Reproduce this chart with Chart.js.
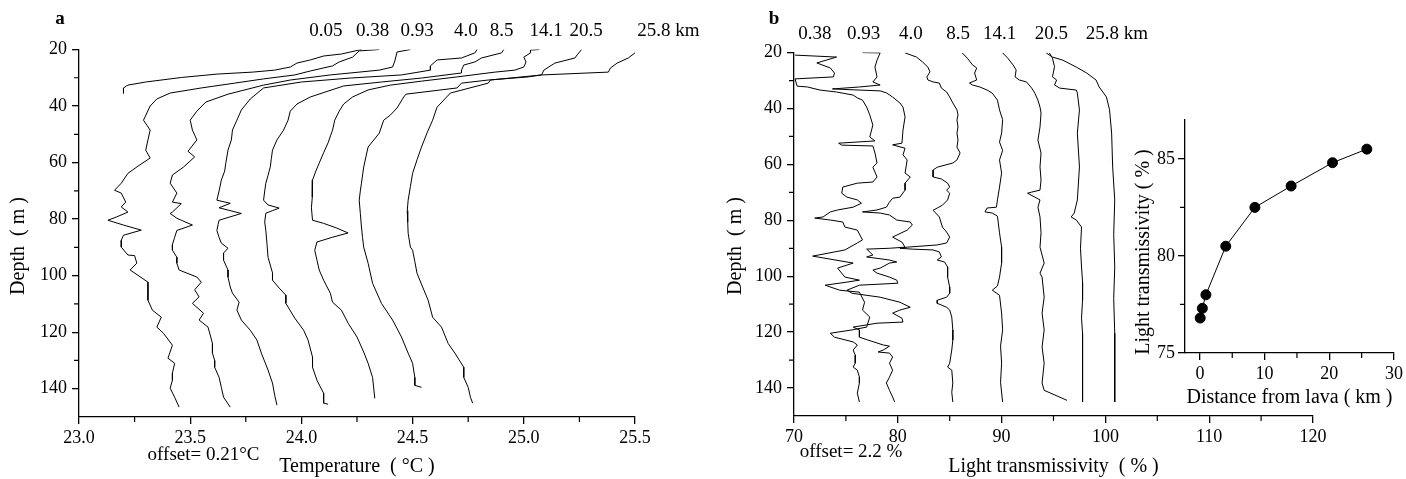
<!DOCTYPE html>
<html>
<head>
<meta charset="utf-8">
<script src="https://cdn.jsdelivr.net/npm/chart.js@4.4.1/dist/chart.umd.min.js"></script>
<style>
  html, body { margin: 0; padding: 0; background: #fff; }
  body { width: 1406px; height: 479px; position: relative; overflow: hidden; }
  canvas { position: absolute; }
  #chart-a { left: 0; top: 0; }
  #chart-b { left: 720px; top: 0; }
  #chart-inset { left: 1100px; top: 80px; }
</style>
</head>
<body>
<canvas id="chart-a" width="720" height="479"></canvas>
<canvas id="chart-b" width="686" height="479"></canvas>
<canvas id="chart-inset" width="306" height="330"></canvas>
<script>
// ---- panel a: temperature profiles, [depth m, temperature °C] ----
const profileA_005 = [[20, 24.27], [21.6, 24.18], [22.3, 24.10], [23.7, 24.04], [24.8, 23.98], [26.2, 23.95], [27.3, 23.88], [28.0, 23.78], [28.7, 23.62], [29.9, 23.46], [31.5, 23.30], [32.6, 23.22], [33.6, 23.20], [35.5, 23.20]];
const profileA_038 = [[20, 24.35], [20.5, 24.26], [22.7, 24.23], [24.4, 24.17], [25.8, 24.14], [27.6, 24.04], [29.0, 23.97], [30.4, 23.83], [31.9, 23.70], [33.6, 23.55], [35.4, 23.41], [37.5, 23.35], [40.0, 23.32], [45.0, 23.29], [48.5, 23.32], [52.0, 23.31], [55.6, 23.30], [58.4, 23.32], [61.0, 23.27], [63.8, 23.22], [67.3, 23.19], [69.8, 23.16], [70.8, 23.19], [74.0, 23.21], [75.7, 23.19], [77.5, 23.22], [79.2, 23.17], [80.4, 23.13], [82.1, 23.20], [83.9, 23.28], [85.7, 23.20], [87.5, 23.19], [89.9, 23.19], [92.7, 23.22], [92.9, 23.25], [95.6, 23.26], [98.0, 23.23], [102.3, 23.31], [105.0, 23.31], [108.7, 23.31], [112.2, 23.33], [114.7, 23.37], [118.2, 23.35], [120.4, 23.38], [124.6, 23.42], [129.2, 23.40], [131.0, 23.43], [134.5, 23.42], [137.0, 23.42], [139.8, 23.41], [143.0, 23.43], [146.5, 23.45]];
const profileA_093 = [[20, 24.49], [20.9, 24.43], [24.1, 24.42], [26.2, 24.41], [27.3, 24.35], [29.0, 24.13], [30.8, 23.95], [32.6, 23.83], [35.8, 23.67], [38.6, 23.57], [41.8, 23.53], [45.0, 23.50], [48.5, 23.51], [52.0, 23.53], [56.0, 23.49], [58.0, 23.52], [61.6, 23.47], [64.4, 23.42], [67.3, 23.41], [70.8, 23.44], [74.0, 23.42], [74.5, 23.46], [77.5, 23.42], [78.0, 23.41], [79.7, 23.44], [80.4, 23.46], [82.1, 23.51], [84.0, 23.44], [86.5, 23.43], [89.0, 23.42], [91.0, 23.42], [93.5, 23.44], [95.6, 23.44], [98.0, 23.45], [100.5, 23.53], [102.3, 23.55], [105.0, 23.52], [107.5, 23.54], [109.8, 23.51], [113.3, 23.56], [115.7, 23.54], [118.2, 23.58], [121.0, 23.59], [124.0, 23.60], [127.4, 23.60], [130.0, 23.61], [132.4, 23.61], [136.0, 23.63], [139.5, 23.64], [143.0, 23.65], [146.5, 23.68]];
const profileA_40 = [[20, 24.79], [21.2, 24.78], [23.0, 24.72], [23.7, 24.61], [25.8, 24.58], [27.3, 24.58], [29.0, 24.45], [30.1, 24.22], [31.5, 24.00], [33.6, 23.83], [37.5, 23.77], [41.4, 23.73], [45.0, 23.71], [48.5, 23.69], [52.0, 23.685], [55.6, 23.67], [60.2, 23.66], [63.0, 23.655], [66.2, 23.64], [70.0, 23.63], [73.3, 23.62], [74.4, 23.68], [76.0, 23.63], [78.0, 23.73], [80.4, 23.63], [82.0, 23.625], [84.0, 23.62], [86.5, 23.63], [88.5, 23.64], [90.3, 23.67], [92.0, 23.65], [94.5, 23.65], [96.3, 23.66], [98.0, 23.67], [100.5, 23.67], [104.0, 23.68], [106.2, 23.69], [109.4, 23.72], [112.2, 23.71], [115.7, 23.73], [119.3, 23.77], [122.8, 23.80], [127.4, 23.82], [133.4, 23.85], [138.0, 23.87], [142.3, 23.88], [145.8, 23.89]];
const profileA_85 = [[20, 24.91], [21.2, 24.90], [23.0, 24.81], [24.4, 24.78], [25.5, 24.73], [27.3, 24.72], [28.3, 24.72], [30.1, 24.54], [31.5, 24.36], [32.9, 24.19], [36.8, 24.04], [39.3, 23.98], [41.8, 23.95], [45.0, 23.94], [48.5, 23.92], [52.0, 23.89], [55.6, 23.87], [58.5, 23.865], [61.6, 23.86], [64.5, 23.85], [67.3, 23.84], [70.0, 23.835], [73.3, 23.83], [75.0, 23.85], [76.1, 23.90], [77.0, 23.87], [77.9, 23.84], [81.0, 23.835], [84.0, 23.84], [88.5, 23.845], [93.5, 23.85], [99.0, 23.87], [101.6, 23.87], [104.4, 23.90], [106.9, 23.93], [109.8, 23.93], [111.1, 23.94], [115.0, 23.97], [119.3, 24.01], [122.8, 24.03], [128.8, 24.05], [132.4, 24.05], [137.0, 24.07], [141.6, 24.10], [145.1, 24.10], [145.5, 24.12]];
const profileA_141 = [[20, 25.07], [20.2, 25.03], [21.2, 25.03], [22.7, 25.00], [24.4, 25.01], [26.2, 25.00], [27.3, 24.96], [28.0, 24.87], [29.7, 24.70], [31.2, 24.54], [32.6, 24.40], [34.3, 24.30], [36.8, 24.23], [39.3, 24.19], [41.8, 24.17], [45.0, 24.15], [48.5, 24.14], [53.0, 24.12], [56.5, 24.10], [60.2, 24.08], [63.0, 24.065], [66.2, 24.05], [69.0, 24.048], [72.2, 24.05], [76.0, 24.045], [80.4, 24.05], [81.5, 24.10], [83.2, 24.16], [84.9, 24.21], [86.4, 24.14], [88.1, 24.07], [91.0, 24.06], [94.5, 24.07], [98.0, 24.08], [101.6, 24.10], [106.2, 24.13], [109.4, 24.14], [112.2, 24.18], [116.8, 24.21], [121.7, 24.25], [127.0, 24.28], [131.0, 24.30], [136.0, 24.32], [143.4, 24.33]];
const profileA_205 = [[20, 25.26], [21.9, 25.24], [23.0, 25.23], [24.8, 25.14], [27.3, 25.09], [29.0, 25.08], [29.7, 25.02], [30.8, 24.84], [31.9, 24.72], [33.6, 24.70], [35.8, 24.47], [36.8, 24.46], [40.7, 24.43], [43.2, 24.40], [45.0, 24.37], [49.6, 24.35], [54.5, 24.30], [58.0, 24.29], [61.6, 24.28], [67.3, 24.27], [70.0, 24.265], [73.3, 24.26], [78.0, 24.265], [82.8, 24.27], [86.5, 24.275], [89.9, 24.28], [95.6, 24.30], [102.7, 24.32], [109.8, 24.36], [115.7, 24.41], [121.7, 24.45], [127.4, 24.48], [131.0, 24.50], [136.0, 24.51], [138.8, 24.51], [139.5, 24.54]];
const profileA_258 = [[20, 25.59], [21.2, 25.50], [23.0, 25.47], [24.8, 25.42], [26.5, 25.39], [28.0, 25.38], [29.0, 25.08], [30.8, 24.85], [31.9, 24.84], [35.4, 24.67], [40.4, 24.61], [45.0, 24.59], [49.5, 24.565], [54.5, 24.54], [59.0, 24.52], [63.8, 24.50], [68.5, 24.49], [73.3, 24.48], [77.0, 24.476], [81.0, 24.478], [85.0, 24.48], [89.9, 24.49], [91.0, 24.50], [95.0, 24.51], [99.2, 24.52], [104.0, 24.545], [108.7, 24.57], [114.7, 24.59], [118.2, 24.63], [124.0, 24.66], [127.4, 24.69], [132.4, 24.73], [136.0, 24.73], [139.5, 24.75], [143.0, 24.76], [145.1, 24.77]];

// ---- panel b: light transmissivity profiles, [depth m, transmissivity %] ----
const profileB_038 = [[20.9, 70.1], [21.6, 74.1], [23.7, 72.2], [25.5, 73.5], [27.3, 73.9], [28.7, 73.8], [29.4, 70.1], [32.0, 70.3], [32.3, 71.3], [33.4, 72.5], [34.1, 74.1], [35.2, 75.7], [36.2, 76.1], [37.0, 76.6], [39.5, 77.0], [42.3, 77.3], [45.9, 77.6], [50.2, 77.3], [51.6, 77.8], [52.4, 74.3], [53.1, 74.6], [53.4, 77.6], [55.9, 77.8], [59.5, 78.0], [61.0, 77.6], [64.5, 78.0], [66.3, 77.6], [66.7, 76.1], [68.1, 74.7], [70.3, 74.6], [71.7, 75.1], [72.7, 76.1], [73.9, 76.5], [75.3, 75.7], [76.3, 74.2], [77.0, 73.5], [78.8, 72.8], [79.2, 72.0], [79.9, 73.5], [80.6, 74.7], [82.4, 74.9], [83.5, 76.1], [87.0, 76.6], [88.1, 76.1], [90.6, 74.9], [92.8, 71.8], [95.3, 75.7], [97.1, 74.2], [100.3, 74.9], [101.4, 76.3], [102.1, 75.1], [103.2, 73.0], [105.0, 74.4], [105.7, 76.3], [109.3, 76.8], [112.1, 76.6], [114.6, 77.3], [118.2, 77.0], [119.2, 75.6], [120.4, 73.5], [121.8, 73.9], [123.5, 75.7], [124.6, 76.1], [126.4, 75.7], [128.2, 75.9], [131.1, 75.9], [132.5, 75.7], [133.6, 76.1], [136.1, 76.3], [138.2, 76.3], [141.8, 76.1], [145.0, 76.3]];
const profileB_093 = [[20.0, 76.6], [20.1, 78.3], [22.7, 78.0], [25.2, 77.8], [28.7, 78.0], [30.5, 77.6], [31.6, 78.3], [32.3, 76.3], [33.0, 73.7], [33.4, 76.3], [33.7, 78.3], [34.4, 78.9], [35.9, 79.5], [38.0, 80.2], [39.5, 80.5], [43.0, 80.7], [47.7, 80.5], [52.4, 80.4], [53.0, 79.5], [54.2, 80.7], [56.6, 80.5], [58.4, 80.9], [63.1, 80.7], [64.5, 81.2], [66.7, 80.7], [69.2, 80.7], [71.7, 80.2], [72.1, 79.5], [73.5, 79.2], [75.3, 78.9], [76.3, 78.0], [77.0, 76.6], [77.4, 78.3], [78.1, 79.2], [79.9, 79.9], [80.6, 81.2], [81.7, 81.4], [83.5, 80.9], [86.0, 79.5], [87.8, 80.4], [89.6, 80.7], [90.0, 79.2], [90.3, 77.0], [92.4, 77.6], [93.1, 77.0], [94.2, 79.2], [94.9, 79.9], [95.3, 79.2], [97.1, 78.3], [97.8, 77.6], [98.9, 78.0], [100.3, 79.2], [101.4, 79.9], [102.5, 80.0], [103.2, 76.3], [105.0, 75.1], [106.1, 75.6], [107.5, 78.3], [109.3, 80.2], [111.1, 81.2], [112.1, 80.2], [113.2, 79.5], [115.0, 80.4], [116.4, 80.5], [116.8, 78.0], [118.2, 75.7], [119.2, 76.3], [121.8, 76.3], [122.8, 77.1], [124.6, 78.6], [125.0, 79.2], [126.4, 78.6], [127.1, 78.1], [127.5, 79.2], [128.9, 79.5], [131.1, 79.2], [133.6, 79.5], [136.1, 79.2], [138.2, 78.9], [140.8, 79.2], [143.2, 79.5], [145.0, 79.7]];
const profileB_40 = [[20.1, 80.7], [21.6, 81.8], [23.4, 82.4], [25.2, 82.9], [26.9, 83.1], [28.7, 82.8], [29.8, 82.9], [30.5, 83.4], [30.9, 84.0], [32.7, 84.2], [34.1, 84.7], [35.9, 85.0], [38.0, 85.3], [40.5, 85.7], [42.3, 85.8], [44.1, 85.7], [46.6, 85.8], [48.8, 85.7], [51.3, 85.8], [53.8, 85.7], [55.9, 86.0], [58.4, 85.7], [59.5, 85.3], [61.0, 83.8], [62.0, 83.4], [64.5, 83.4], [65.2, 84.2], [66.7, 84.8], [68.1, 85.0], [69.2, 84.7], [70.3, 85.0], [72.7, 84.8], [74.6, 84.3], [75.6, 83.8], [76.4, 83.4], [78.8, 84.0], [82.4, 84.3], [84.2, 84.7], [86.0, 85.0], [88.1, 84.7], [88.8, 83.8], [89.6, 80.9], [90.0, 80.2], [90.3, 81.4], [90.6, 83.4], [91.3, 84.0], [93.1, 84.2], [94.2, 83.8], [94.9, 84.5], [96.7, 84.8], [100.3, 84.8], [103.9, 85.0], [106.1, 85.0], [107.5, 84.7], [108.6, 83.8], [109.7, 83.8], [110.3, 84.2], [111.1, 84.7], [112.1, 85.0], [114.6, 85.2], [119.2, 85.3], [122.8, 85.3], [126.4, 85.2], [131.1, 85.0], [132.5, 84.8], [133.6, 85.2], [138.2, 85.3], [141.5, 85.2], [145.0, 85.3]];
const profileB_85 = [[20.1, 86.2], [22.0, 86.7], [24.4, 87.2], [25.5, 87.6], [27.3, 87.4], [29.8, 87.6], [30.9, 86.9], [31.6, 87.2], [32.3, 87.9], [33.4, 88.6], [34.5, 89.1], [37.0, 89.6], [40.5, 89.8], [44.0, 90.1], [48.8, 90.0], [52.0, 89.8], [55.0, 90.1], [58.4, 89.8], [63.1, 90.0], [68.1, 89.8], [72.7, 89.6], [75.3, 89.5], [75.6, 88.6], [77.0, 88.4], [77.4, 89.1], [78.5, 89.6], [84.5, 89.8], [89.6, 90.0], [95.3, 90.0], [100.3, 89.8], [103.5, 89.6], [105.0, 89.1], [106.8, 89.8], [113.2, 90.0], [119.2, 90.1], [125.0, 89.9], [131.1, 90.0], [138.0, 89.9], [145.0, 90.1]];
const profileB_141 = [[20.1, 90.1], [22.0, 90.6], [24.4, 91.1], [26.2, 91.4], [28.7, 91.3], [29.8, 91.7], [30.5, 92.4], [32.7, 92.9], [34.5, 93.2], [37.0, 93.5], [39.5, 93.7], [41.6, 93.8], [46.6, 93.7], [51.3, 93.5], [55.9, 93.8], [60.9, 93.7], [65.6, 93.8], [69.2, 93.7], [69.9, 92.9], [70.3, 92.5], [71.7, 93.2], [72.7, 93.7], [75.3, 93.5], [78.8, 93.7], [84.5, 93.8], [89.6, 93.7], [95.3, 94.1], [98.9, 93.7], [100.3, 93.9], [107.5, 94.1], [113.2, 93.9], [119.2, 94.1], [125.3, 93.9], [131.1, 94.1], [138.2, 93.9], [140.8, 94.1], [144.4, 96.3]];
const profileB_205 = [[20.1, 94.6], [22.0, 94.9], [25.0, 95.1], [28.7, 94.9], [29.8, 95.3], [31.6, 95.1], [32.7, 95.6], [33.4, 97.2], [34.5, 97.3], [40.5, 97.5], [48.8, 97.3], [60.9, 97.5], [72.7, 97.3], [77.4, 97.0], [78.8, 96.7], [79.9, 97.2], [82.4, 97.7], [90.0, 97.6], [96.7, 97.7], [102.0, 97.8], [108.5, 97.8], [115.0, 97.7], [120.4, 97.8], [132.5, 97.8], [145.0, 97.8]];
const profileB_258 = [[20.1, 94.3], [21.6, 94.9], [22.7, 95.9], [25.2, 97.2], [27.3, 98.2], [29.8, 99.1], [32.3, 99.4], [35.9, 100.1], [40.5, 100.4], [48.8, 100.6], [60.9, 100.7], [72.7, 100.9], [85.0, 100.8], [96.7, 100.9], [108.0, 100.8], [120.4, 100.9], [132.0, 100.9], [145.0, 100.9]];

// ---- inset: mean transmissivity vs distance ----
const DISTANCE_KM = [0.05, 0.38, 0.93, 4.0, 8.5, 14.1, 20.5, 25.8];
const TRANSMISSIVITY = [76.8, 77.3, 78.0, 80.5, 82.5, 83.6, 84.8, 85.5];

// ---- ticks and labels ----
const DEPTH_TICKS = [20, 40, 60, 80, 100, 120, 140];
const DEPTH_MINOR = [30, 50, 70, 90, 110, 130];
const TEMP_TICKS = [23.0, 23.5, 24.0, 24.5, 25.0, 25.5];
const TEMP_MINOR = [23.25, 23.75, 24.25, 24.75, 25.25];
const TRANS_TICKS = [70, 80, 90, 100, 110, 120];
const TRANS_MINOR = [75, 85, 95, 105, 115];
const INSET_X_TICKS = [0, 10, 20, 30];
const INSET_X_MINOR = [5, 15, 25];
const INSET_Y_TICKS = [75, 80, 85];
const INSET_Y_MINOR = [77.5, 82.5];

const LABELS_A = ['0.05', '0.38', '0.93', '4.0', '8.5', '14.1', '20.5', '25.8 km'];
const LABEL_POS_A = [24.11, 24.32, 24.52, 24.74, 24.90, 25.10, 25.28, 25.65];
const LABELS_B = ['0.38', '0.93', '4.0', '8.5', '14.1', '20.5', '25.8 km'];
const LABEL_POS_B = [72.0, 76.7, 81.25, 85.8, 89.8, 94.8, 101.1];

const FONT = '"Liberation Serif", "Times New Roman", serif';
Chart.defaults.font.family = FONT;
Chart.defaults.color = '#000';

// draws the shorter unlabelled ticks on both axes
const minorTicks = {
  id: 'minorTicks',
  afterDraw(chart, args, opts) {
    const { ctx, chartArea } = chart;
    const x = chart.scales.x, y = chart.scales.y;
    ctx.save();
    ctx.strokeStyle = '#000';
    ctx.lineWidth = 1.2;
    ctx.beginPath();
    (opts.x || []).forEach(v => {
      const px = x.getPixelForValue(v);
      ctx.moveTo(px, chartArea.bottom);
      ctx.lineTo(px, chartArea.bottom + opts.len);
    });
    (opts.y || []).forEach(v => {
      const py = y.getPixelForValue(v);
      ctx.moveTo(chartArea.left, py);
      ctx.lineTo(chartArea.left - opts.len, py);
    });
    ctx.stroke();
    ctx.restore();
  }
};

// free text: panel letters, distance labels, offset notes, rotated y titles
const textLabels = {
  id: 'textLabels',
  afterDraw(chart, args, opts) {
    const { ctx } = chart;
    (opts.items || []).forEach(it => {
      ctx.save();
      ctx.font = it.font;
      ctx.fillStyle = '#000';
      ctx.textAlign = it.align || 'center';
      ctx.textBaseline = 'middle';
      const px = it.x !== undefined ? chart.scales.x.getPixelForValue(it.x) : it.px;
      ctx.translate(px, it.py);
      if (it.rot) ctx.rotate(it.rot);
      ctx.fillText(it.text, 0, 0);
      ctx.restore();
    });
  }
};

function profileDataset(profile) {
  return {
    data: profile.map(([d, v]) => ({ x: v, y: d })),
    showLine: true,
    borderColor: '#000',
    borderWidth: 1,
    pointRadius: 0,
    tension: 0,
  };
}

function axis(opts) {
  return {
    type: 'linear',
    min: opts.min,
    max: opts.max,
    reverse: !!opts.reverse,
    position: opts.position,
    afterBuildTicks: (s) => { s.ticks = opts.ticks.map(v => ({ value: v })); },
    afterFit: (s) => { if (s.isHorizontal()) s.height = opts.size; else s.width = opts.size; },
    border: { display: true, color: '#000', width: 1.3 },
    grid: { display: true, drawOnChartArea: false, drawTicks: true, tickLength: 7, color: '#000', lineWidth: 1.3 },
    ticks: {
      color: '#000',
      font: { size: 18 },
      padding: opts.tickPad,
      maxRotation: 0,
      autoSkip: false,
      callback: opts.fmt || (v => v),
    },
    title: {
      display: !!opts.title,
      text: opts.title,
      color: '#000',
      font: { size: 20 },
      padding: { top: 0, bottom: 0 },
    },
  };
}

const LABEL_FONT = '19px ' + FONT;
const LETTER_FONT = 'bold 19px ' + FONT;
const TITLE_FONT = '20px ' + FONT;
const UP = -Math.PI / 2;

function profileChart(id, profiles, cfg) {
  return new Chart(document.getElementById(id), {
    type: 'scatter',
    data: { datasets: profiles.map(profileDataset) },
    options: {
      responsive: false,
      animation: false,
      layout: { padding: cfg.padding },
      plugins: {
        legend: { display: false },
        tooltip: { enabled: false },
        minorTicks: { x: cfg.xMinor, y: DEPTH_MINOR, len: 5 },
        textLabels: { items: cfg.texts },
      },
      scales: {
        x: axis({ min: cfg.xMin, max: cfg.xMax, ticks: cfg.xTicks, position: 'bottom', size: cfg.xSize, tickPad: 3,
                  fmt: cfg.xFmt, title: cfg.xTitle }),
        y: axis({ min: 20, max: 150, reverse: true, ticks: DEPTH_TICKS, position: 'left', size: cfg.ySize, tickPad: 5 }),
      }
    },
    plugins: [minorTicks, textLabels]
  });
}

profileChart('chart-a',
  [profileA_005, profileA_038, profileA_093, profileA_40, profileA_85, profileA_141, profileA_205, profileA_258], {
  padding: { left: 0, top: 49.5, right: 85, bottom: 0 },
  xMin: 23.0, xMax: 25.5, xTicks: TEMP_TICKS, xMinor: TEMP_MINOR, xSize: 62, ySize: 79,
  xFmt: v => v.toFixed(1),
  xTitle: 'Temperature  ( °C )',
  texts: [
    { text: 'a', px: 60, py: 19, font: LETTER_FONT },
    ...LABELS_A.map((t, i) => ({ text: t, x: LABEL_POS_A[i], py: 31, font: LABEL_FONT })),
    { text: 'offset= 0.21°C', x: 23.56, py: 455, font: LABEL_FONT },
    { text: 'Depth  ( m )', px: 19, py: 246, rot: UP, font: TITLE_FONT },
  ]
});

profileChart('chart-b',
  [profileB_038, profileB_093, profileB_40, profileB_85, profileB_141, profileB_205, profileB_258], {
  padding: { left: 0, top: 52.6, right: 93, bottom: 0 },
  xMin: 70, xMax: 120, xTicks: TRANS_TICKS, xMinor: TRANS_MINOR, xSize: 63, ySize: 74,
  xTitle: 'Light transmissivity  ( % )',
  texts: [
    { text: 'b', px: 54, py: 19, font: LETTER_FONT },
    ...LABELS_B.map((t, i) => ({ text: t, x: LABEL_POS_B[i], py: 34, font: LABEL_FONT })),
    { text: 'offset= 2.2 %', x: 75.5, py: 452, font: LABEL_FONT },
    { text: 'Depth  ( m )', px: 16, py: 246, rot: UP, font: TITLE_FONT },
  ]
});

new Chart(document.getElementById('chart-inset'), {
  type: 'scatter',
  data: {
    datasets: [{
      data: DISTANCE_KM.map((d, i) => ({ x: d, y: TRANSMISSIVITY[i] })),
      showLine: true,
      borderColor: '#000',
      borderWidth: 1,
      pointRadius: 5,
      pointBackgroundColor: '#000',
      pointBorderColor: '#000',
      tension: 0,
    }]
  },
  options: {
    responsive: false,
    animation: false,
    layout: { padding: { left: 0, top: 40, right: 10, bottom: 0 } },
    plugins: {
      legend: { display: false },
      tooltip: { enabled: false },
      minorTicks: { x: INSET_X_MINOR, y: INSET_Y_MINOR, len: 5 },
      textLabels: { items: [
        { text: 'Light transmissivity ( % )', px: 44, py: 172, rot: UP, font: TITLE_FONT },
      ] },
    },
    scales: {
      x: axis({ min: -2.3, max: 30, ticks: INSET_X_TICKS, position: 'bottom', size: 57, tickPad: 3,
                title: 'Distance from lava ( km )' }),
      y: axis({ min: 75, max: 87, ticks: INSET_Y_TICKS, position: 'left', size: 85, tickPad: 3 }),
    }
  },
  plugins: [minorTicks, textLabels]
});
</script>
</body>
</html>
